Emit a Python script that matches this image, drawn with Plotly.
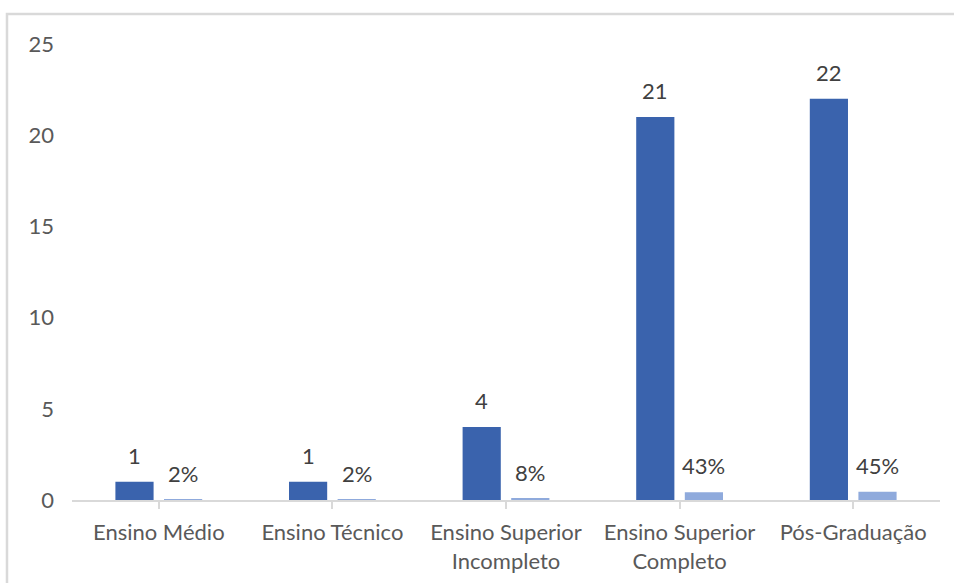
import plotly.graph_objects as go

# Escolaridade: contagem e participação percentual
categorias = ["Ensino Médio", "Ensino Técnico", "Ensino Superior Incompleto",
              "Ensino Superior Completo", "Pós-Graduação"]
rotulos_eixo = ["Ensino Médio", "Ensino Técnico", "Ensino Superior<br>Incompleto",
                "Ensino Superior<br>Completo", "Pós-Graduação"]
quantidade = [1, 1, 4, 21, 22]
percentual = [0.02, 0.02, 0.08, 0.43, 0.45]

COR_QTD = "#3A63AD"
COR_PCT = "#8FAADC"
COR_EIXO = "#D9D9D9"
COR_TEXTO = "#595959"
COR_ROTULO = "#404040"
FONTE = "Lato"

idx = list(range(len(categorias)))
larg = 0.22
desloc_qtd = -0.25
desloc_pct = 0.03

fig = go.Figure()
fig.add_trace(go.Bar(x=idx, y=quantidade, name="Quantidade",
                     marker=dict(color=COR_QTD, line=dict(width=0)),
                     offset=desloc_qtd, width=larg, hoverinfo="skip"))
fig.add_trace(go.Bar(x=idx, y=percentual, name="Percentual",
                     marker=dict(color=COR_PCT, line=dict(width=0)),
                     offset=desloc_pct, width=larg, hoverinfo="skip"))

# rótulos de dados acima das barras
for i, (q, p) in enumerate(zip(quantidade, percentual)):
    fig.add_annotation(x=i + desloc_qtd + larg / 2, y=q, text=str(q),
                       xref="x", yref="y", showarrow=False, yanchor="bottom",
                       yshift=11, font=dict(family=FONTE, size=22, color=COR_ROTULO))
    fig.add_annotation(x=i + desloc_pct + larg / 2, y=p, text=f"{p:.0%}",
                       xref="x", yref="y", showarrow=False, yanchor="bottom",
                       yshift=11, font=dict(family=FONTE, size=22, color=COR_ROTULO))

# moldura da área do gráfico
fig.add_shape(type="rect", xref="paper", yref="paper",
              x0=-0.0749, x1=1.2, y0=-0.5, y1=1.0658,
              line=dict(color=COR_EIXO, width=2.5), fillcolor="rgba(0,0,0,0)",
              layer="below")

fig.update_layout(
    width=954, height=583,
    margin=dict(l=72, r=14, t=44, b=83),
    paper_bgcolor="white", plot_bgcolor="white",
    showlegend=False,
    barmode="group",
    font=dict(family=FONTE, size=22, color=COR_TEXTO),
    xaxis=dict(
        tickmode="array", tickvals=idx, ticktext=rotulos_eixo,
        range=[-0.5, len(categorias) - 0.5],
        showline=True, linecolor=COR_EIXO, linewidth=2,
        ticks="outside", tickson="boundaries", ticklen=7,
        tickcolor=COR_EIXO, tickwidth=2,
        ticklabelstandoff=5,
        layer="above traces",
        automargin=False,
        showgrid=False, zeroline=False,
        tickfont=dict(family=FONTE, size=22, color=COR_TEXTO),
    ),
    yaxis=dict(
        range=[0, 25], dtick=5, tick0=0,
        showline=False, showgrid=False, zeroline=False,
        ticks="", ticklabelstandoff=17,
        automargin=False,
        tickfont=dict(family=FONTE, size=22, color=COR_TEXTO),
    ),
)

fig.write_html("out.html")
